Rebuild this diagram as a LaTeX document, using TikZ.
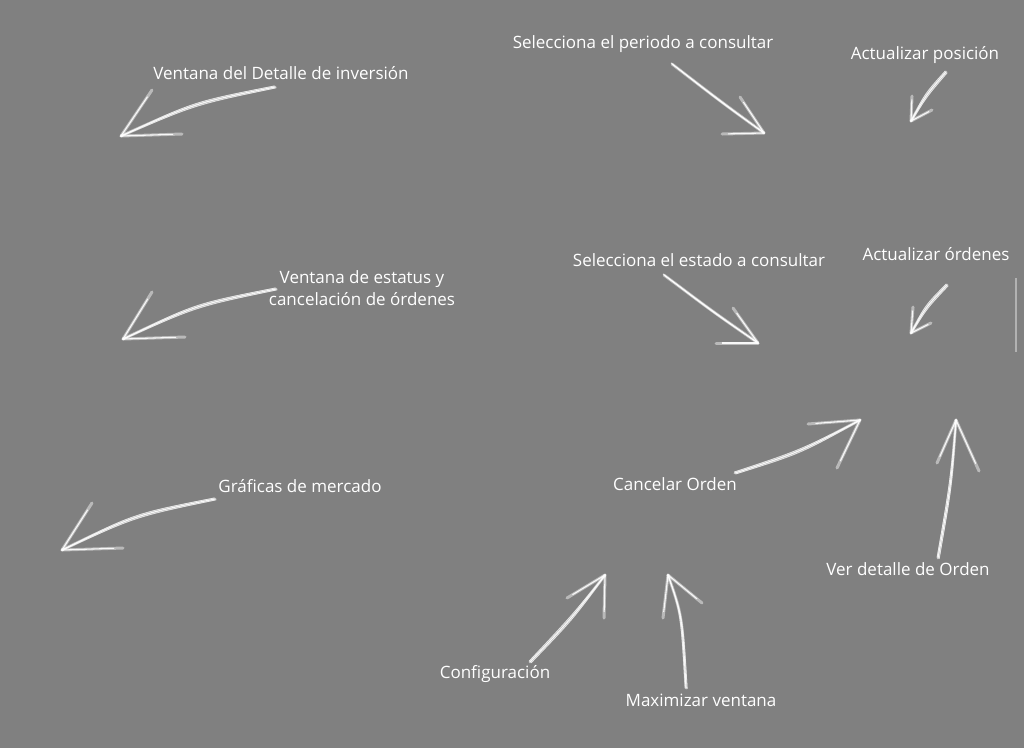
\documentclass[tikz,border=0pt]{standalone}
\usepackage{fontspec}
\setmainfont{Open Sans}
\usetikzlibrary{calc}
\definecolor{bg}{RGB}{128,128,128}
\definecolor{rule}{RGB}{178,178,178}
\newcommand{\chalkarrow}[5]{%
  \draw[chalkwide] (#1) .. controls (#2) .. (#3);
  \draw[chalkthin] ($(#1)+(1.2,0.8)$) .. controls ($(#2)+(0.8,1.6)$) .. ($(#3)+(0.3,0.3)$);
  \draw[chalkthin] ($(#1)+(-0.8,-1)$) .. controls ($(#2)+(-1.2,-1.4)$) .. (#3);
  \draw[chalkcore] (#1) .. controls (#2) .. (#3);
  \draw[chalkwide] (#3) -- (#4);
  \draw[chalkcore] (#3) -- ($(#4)!0.15!(#3)$);
  \draw[chalkwide] (#3) -- (#5);
  \draw[chalkcore] (#3) -- ($(#5)!0.15!(#3)$);
}
\begin{document}
\begin{tikzpicture}[x=1pt,y=-1pt,
  lbl/.style={text=white,font=\fontsize{17}{22}\selectfont,inner sep=0pt,align=center},
  chalkwide/.style={white,opacity=0.45,line width=3pt,line cap=round},
  chalkthin/.style={white,opacity=0.7,line width=0.8pt,line cap=round},
  chalkcore/.style={white,opacity=0.9,line width=1.1pt,line cap=round}]
\fill[bg] (0,0) rectangle (1024,748);
\useasboundingbox (0,0) rectangle (1024,748);
\draw[rule,line width=1.6pt] (1016,278) -- (1016,352);

% labels
\node[lbl] (l1) at (281,73) {Ventana del Detalle de inversión};
\node[lbl] (l2) at (643,44) {Selecciona el periodo a consultar};
\node[lbl] (l3) at (925,55) {Actualizar posición};
\node[lbl] (l4) at (362,288) {Ventana de estatus y\\cancelación de órdenes};
\node[lbl] (l5) at (699,260) {Selecciona el estado a consultar};
\node[lbl] (l6) at (936,254) {Actualizar órdenes};
\node[lbl] (l7) at (300,486) {Gráficas de mercado};
\node[lbl] (l8) at (675,484) {Cancelar Orden};
\node[lbl] (l9) at (908,569) {Ver detalle de Orden};
\node[lbl] (l10) at (495,674) {Configuración};
\node[lbl] (l11) at (701,700) {Maximizar ventana};

% arrow coordinates
\coordinate (t1) at (275,87); \coordinate (c1) at (195,103); \coordinate (p1) at (121,136);
\coordinate (b1a) at (152,90); \coordinate (b1b) at (182,134);
\coordinate (t2) at (672,64); \coordinate (c2) at (720,101); \coordinate (p2) at (764,133);
\coordinate (b2a) at (740,97); \coordinate (b2b) at (722,134);
\coordinate (t3) at (946,72); \coordinate (c3) at (926,95); \coordinate (p3) at (911,121);
\coordinate (b3a) at (912,96); \coordinate (b3b) at (932,110);
\coordinate (t4) at (276,289); \coordinate (c4) at (196,305); \coordinate (p4) at (123,339);
\coordinate (b4a) at (152,292); \coordinate (b4b) at (185,337);
\coordinate (t5) at (664,275); \coordinate (c5) at (712,311); \coordinate (p5) at (758,343);
\coordinate (b5a) at (733,308); \coordinate (b5b) at (716,343);
\coordinate (t6) at (947,285); \coordinate (c6) at (926,307); \coordinate (p6) at (911,333);
\coordinate (b6a) at (913,307); \coordinate (b6b) at (931,323);
\coordinate (t7) at (215,499); \coordinate (c7) at (135,515); \coordinate (p7) at (62,550);
\coordinate (b7a) at (92,503); \coordinate (b7b) at (123,548);
\coordinate (t8) at (735,473); \coordinate (c8) at (800,452); \coordinate (p8) at (860,420);
\coordinate (b8a) at (808,424); \coordinate (b8b) at (837,468);
\coordinate (t9) at (938,558); \coordinate (c9) at (951,485); \coordinate (p9) at (956,420);
\coordinate (b9a) at (937,463); \coordinate (b9b) at (979,471);
\coordinate (t10) at (530,662); \coordinate (c10) at (572,618); \coordinate (p10) at (605,575);
\coordinate (b10a) at (567,598); \coordinate (b10b) at (604,618);
\coordinate (t11) at (686,688); \coordinate (c11) at (682,615); \coordinate (p11) at (668,575);
\coordinate (b11a) at (663,618); \coordinate (b11b) at (702,603);

\chalkarrow{t1}{c1}{p1}{b1a}{b1b}
\chalkarrow{t2}{c2}{p2}{b2a}{b2b}
\chalkarrow{t3}{c3}{p3}{b3a}{b3b}
\chalkarrow{t4}{c4}{p4}{b4a}{b4b}
\chalkarrow{t5}{c5}{p5}{b5a}{b5b}
\chalkarrow{t6}{c6}{p6}{b6a}{b6b}
\chalkarrow{t7}{c7}{p7}{b7a}{b7b}
\chalkarrow{t8}{c8}{p8}{b8a}{b8b}
\chalkarrow{t9}{c9}{p9}{b9a}{b9b}
\chalkarrow{t10}{c10}{p10}{b10a}{b10b}
\chalkarrow{t11}{c11}{p11}{b11a}{b11b}
\end{tikzpicture}
\end{document}
